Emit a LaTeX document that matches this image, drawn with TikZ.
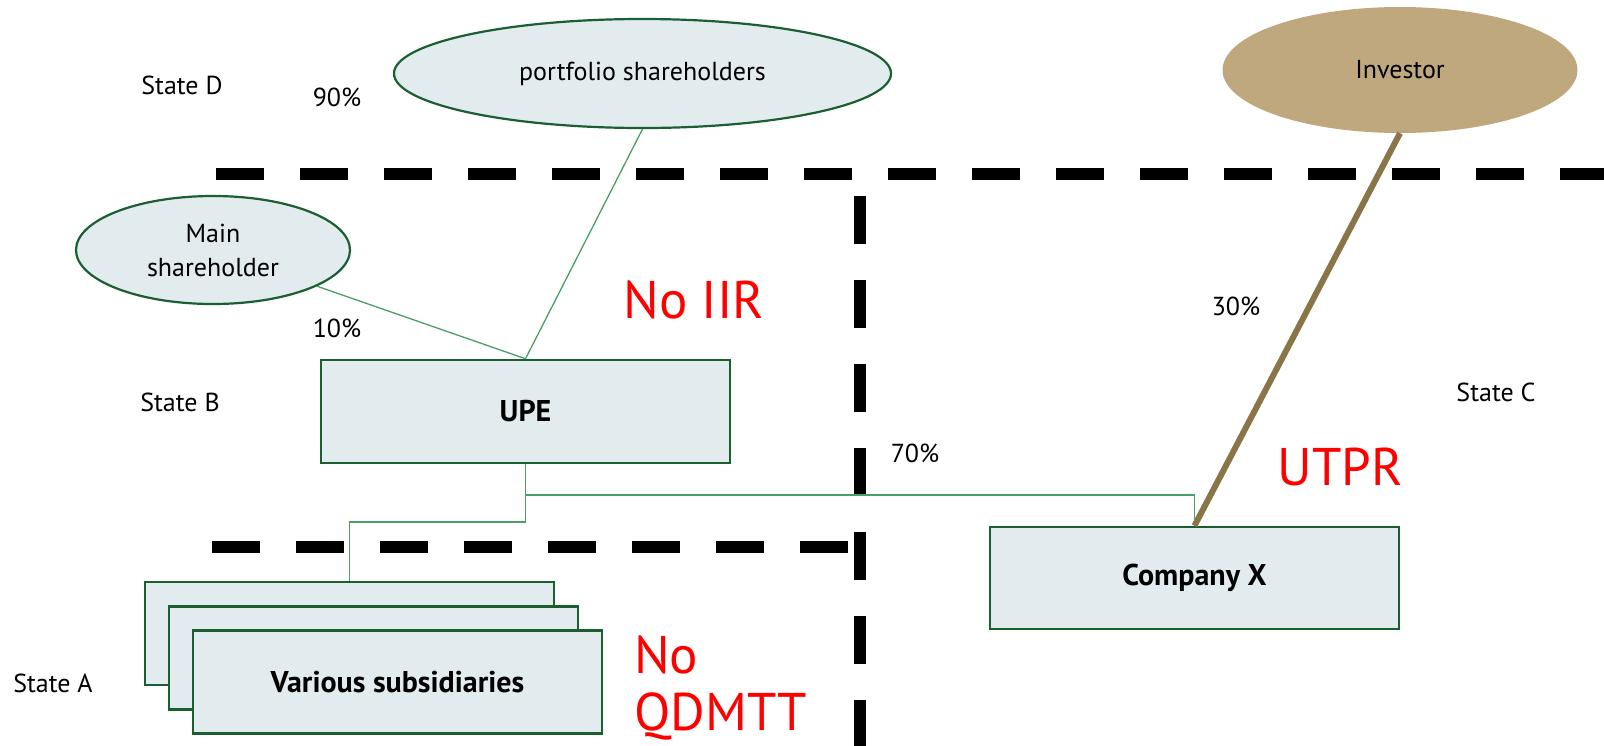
\documentclass[tikz,border=0pt]{standalone}
\usepackage{fontspec}
\setmainfont{PT Sans}
\usetikzlibrary{shapes.geometric}
\definecolor{boxfill}{HTML}{E2EBEE}
\definecolor{boxline}{HTML}{1A5E32}
\definecolor{linkgreen}{HTML}{4A9E68}
\definecolor{invfill}{HTML}{BFA87E}
\definecolor{invline}{HTML}{8A7549}
\begin{document}
\begin{tikzpicture}[x=1pt,y=-1pt,
  entity/.style={draw=boxline, fill=boxfill, line width=2.5pt,
    minimum width=409pt, minimum height=103pt, inner sep=0pt,
    font=\fontsize{30}{34}\selectfont\bfseries},
  holder/.style={ellipse, draw=boxline, fill=boxfill, line width=2.2pt,
    inner sep=0pt, align=center, font=\fontsize{26}{34}\selectfont},
  border/.style={line width=12pt, dash pattern=on 48pt off 36pt},
  link/.style={draw=linkgreen, line width=1.3pt},
  tag/.style={inner sep=0pt, font=\fontsize{26}{30}\selectfont},
  flag/.style={inner sep=0pt, text=red, font=\fontsize{53}{57}\selectfont}
]
\useasboundingbox (0,0) rectangle (1604,745);

% jurisdiction borders
\draw[border] (216,173.5) -- (1604,173.5);
\draw[border] (860,196) -- (860,760);
\draw[border] (212,547) -- (848,547);

% shareholders
\node[holder, minimum width=497pt, minimum height=109pt] (port) at (642.5,73.5) {portfolio shareholders};
\node[holder, minimum width=274pt, minimum height=108pt] (mainsh) at (213,250) {Main\\shareholder};
\node[ellipse, fill=invfill, inner sep=0pt, minimum width=355pt, minimum height=126pt,
  font=\fontsize{26}{30}\selectfont] (inv) at (1400,70) {Investor};

% group entities
\node[entity] (upe) at (525.5,411.5) {UPE};
\node[entity] (sub1) at (349.5,633.5) {};
\node[entity] (sub2) at (373.5,658) {};
\node[entity] (sub3) at (397.5,682) {Various subsidiaries};
\node[entity, minimum height=102pt] (cox) at (1194.5,578) {Company X};

% ownership links
\coordinate (tee) at (525.5,495);
\coordinate (fork) at (525.5,522);
\draw[link] (port.south) -- (upe.north);
\draw[link] (mainsh) -- (upe.north);
\draw[link] (upe.south) -- (tee) -| (cox.north);
\draw[link] (tee) -- (fork) -| (sub1.north);
\draw[invline, line width=6pt] (inv.south) -- (cox.north);

% state names and percentages
\node[tag] (sd) at (182,85) {State D};
\node[tag] (sb) at (180,402) {State B};
\node[tag] (sa) at (53,683) {State A};
\node[tag] (sc) at (1496,392) {State C};
\node[tag] (p90) at (337,97) {90\%};
\node[tag] (p10) at (337,328) {10\%};
\node[tag] (p70) at (915,453) {70\%};
\node[tag] (p30) at (1236,306) {30\%};

% rules that apply
\node[flag] (iir) at (694,300) {No IIR};
\node[flag] (utpr) at (1340,467) {UTPR};
\node[flag, align=left, anchor=north west] (qdmtt) at (634,636) {No\\QDMTT};
\end{tikzpicture}
\end{document}
